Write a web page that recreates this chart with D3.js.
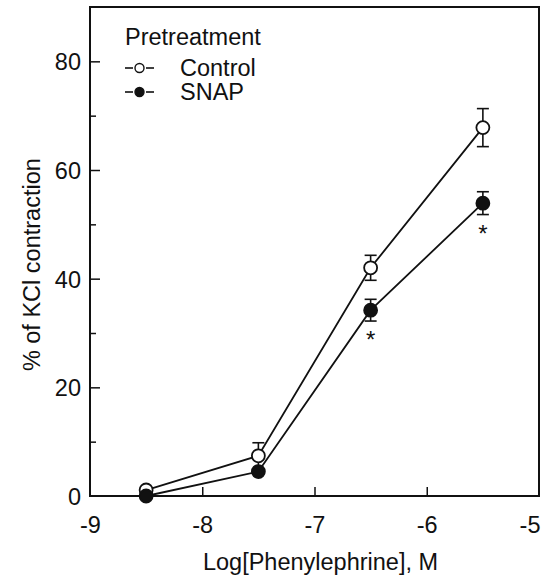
<!DOCTYPE html>
<html>
<head>
<meta charset="utf-8">
<script src="https://cdn.jsdelivr.net/npm/d3@7"></script>
<style>
  body { margin: 0; background: #fff; }
  text { font-family: "Liberation Sans", Arial, sans-serif; fill: #111; }
</style>
</head>
<body>
<div id="chart"></div>
<script>
// log concentrations (M)
var doses = [-8.5, -7.5, -6.5, -5.5];
// % of KCl contraction, mean and SEM
var controlMean = [1.1, 7.4, 42.0, 67.8];
var controlSem = [0, 2.4, 2.3, 3.5];
var snapMean = [0, 4.5, 34.2, 53.9];
var snapSem = [0, 0, 2.0, 2.1];
var significant = [false, false, true, true]; // asterisks on SNAP
var xTicks = [-9, -8, -7, -6, -5];
var yTicks = [0, 20, 40, 60, 80];
var yMinor = [10, 30, 50, 70];

var W = 541, H = 583;
var margin = { top: 7, right: 2, bottom: 87, left: 90 };
var width = W - margin.left - margin.right;
var height = H - margin.top - margin.bottom;
var FS = "23.5px";

var svg = d3.select("#chart").append("svg")
    .attr("width", W)
    .attr("height", H);
var g = svg.append("g")
    .attr("transform", "translate(" + margin.left + "," + margin.top + ")");

var x = d3.scaleLinear().domain([-9, -5]).range([0, width]);
var y = d3.scaleLinear().domain([0, 90]).range([height, 0]);

// box
g.append("rect")
    .attr("width", width).attr("height", height)
    .attr("fill", "none").attr("stroke", "#111").attr("stroke-width", 2);

// ticks point inward
var xAxis = g.append("g")
    .attr("transform", "translate(0," + height + ")")
    .call(d3.axisBottom(x).tickValues(xTicks).tickSize(-9).tickPadding(20).tickFormat(function (d) { return String(d); }));
var yAxis = g.append("g")
    .call(d3.axisLeft(y).tickValues(yTicks).tickSize(-10).tickPadding(9));
g.append("g")
    .call(d3.axisLeft(y).tickValues(yMinor).tickSize(-6).tickFormat(""))
    .select(".domain").remove();

[xAxis, yAxis].forEach(function (a) {
    a.select(".domain").remove();
    a.selectAll("text").style("font-size", FS).attr("fill", "#111");
});
g.selectAll(".tick line").attr("stroke", "#111").attr("stroke-width", 1.5);
xAxis.selectAll(".tick").filter(function (d) { return d == -9 || d == -5; }).select("line").remove();
xAxis.selectAll(".tick").filter(function (d) { return d == -5; }).select("text")
    .attr("text-anchor", "end").attr("x", 1);
yAxis.selectAll(".tick").filter(function (d) { return d == 0; }).select("line").remove();
yAxis.selectAll("text").attr("dy", "0.36em");

// axis titles
svg.append("text")
    .attr("x", margin.left + x(-7.0) + 6)
    .attr("y", 570)
    .attr("text-anchor", "middle")
    .style("font-size", FS)
    .text("Log[Phenylephrine], M");
svg.append("text")
    .attr("transform", "translate(40," + (margin.top + y(40) - 14) + ") rotate(-90)")
    .attr("text-anchor", "middle")
    .style("font-size", FS)
    .text("% of KCl contraction");

var series = [
    { name: "Control", mean: controlMean, sem: controlSem, fill: "#fff" },
    { name: "SNAP", mean: snapMean, sem: snapSem, fill: "#111" }
];

var line = d3.line()
    .x(function (d) { return x(d[0]); })
    .y(function (d) { return y(d[1]); });

// error bars
series.forEach(function (s) {
    doses.forEach(function (dz, i) {
        if (!s.sem[i]) return;
        var cx = x(dz);
        var eg = g.append("g").attr("stroke", "#111").attr("stroke-width", 1.6);
        eg.append("line")
            .attr("x1", cx).attr("x2", cx)
            .attr("y1", y(s.mean[i] - s.sem[i])).attr("y2", y(s.mean[i] + s.sem[i]));
        [s.mean[i] - s.sem[i], s.mean[i] + s.sem[i]].forEach(function (v) {
            eg.append("line")
                .attr("x1", cx - 6).attr("x2", cx + 6)
                .attr("y1", y(v)).attr("y2", y(v));
        });
    });
});

// lines
series.forEach(function (s) {
    g.append("path")
        .datum(doses.map(function (dz, i) { return [dz, s.mean[i]]; }))
        .attr("fill", "none")
        .attr("stroke", "#111")
        .attr("stroke-width", 1.8)
        .attr("d", line);
});

// markers
series.forEach(function (s) {
    g.selectAll(null)
        .data(doses.map(function (dz, i) { return [dz, s.mean[i]]; }))
        .enter().append("circle")
        .attr("cx", function (d) { return x(d[0]); })
        .attr("cy", function (d) { return y(d[1]); })
        .attr("r", 6.5)
        .attr("fill", s.fill)
        .attr("stroke", "#111")
        .attr("stroke-width", 1.8);
});

// asterisks
doses.forEach(function (dz, i) {
    if (!significant[i]) return;
    g.append("text")
        .attr("x", x(dz))
        .attr("y", y(snapMean[i] - snapSem[i]) + 27)
        .attr("text-anchor", "middle")
        .style("font-size", "24px")
        .text("*");
});

// legend
var leg = svg.append("g").attr("transform", "translate(125,45)");
leg.append("text").attr("x", 0).attr("y", 0).style("font-size", FS).text("Pretreatment");
series.forEach(function (s, i) {
    var ly = 23 + i * 24;
    var row = leg.append("g").attr("transform", "translate(0," + ly + ")");
    row.append("line").attr("x1", 0).attr("x2", 8).attr("stroke", "#111").attr("stroke-width", 1.6);
    row.append("line").attr("x1", 21).attr("x2", 29).attr("stroke", "#111").attr("stroke-width", 1.6);
    row.append("circle").attr("cx", 14.5).attr("r", 4.5)
        .attr("fill", s.fill).attr("stroke", "#111").attr("stroke-width", 1.4);
    row.append("text").attr("x", 55).attr("dy", "0.36em").style("font-size", FS).text(s.name);
});
</script>
</body>
</html>
